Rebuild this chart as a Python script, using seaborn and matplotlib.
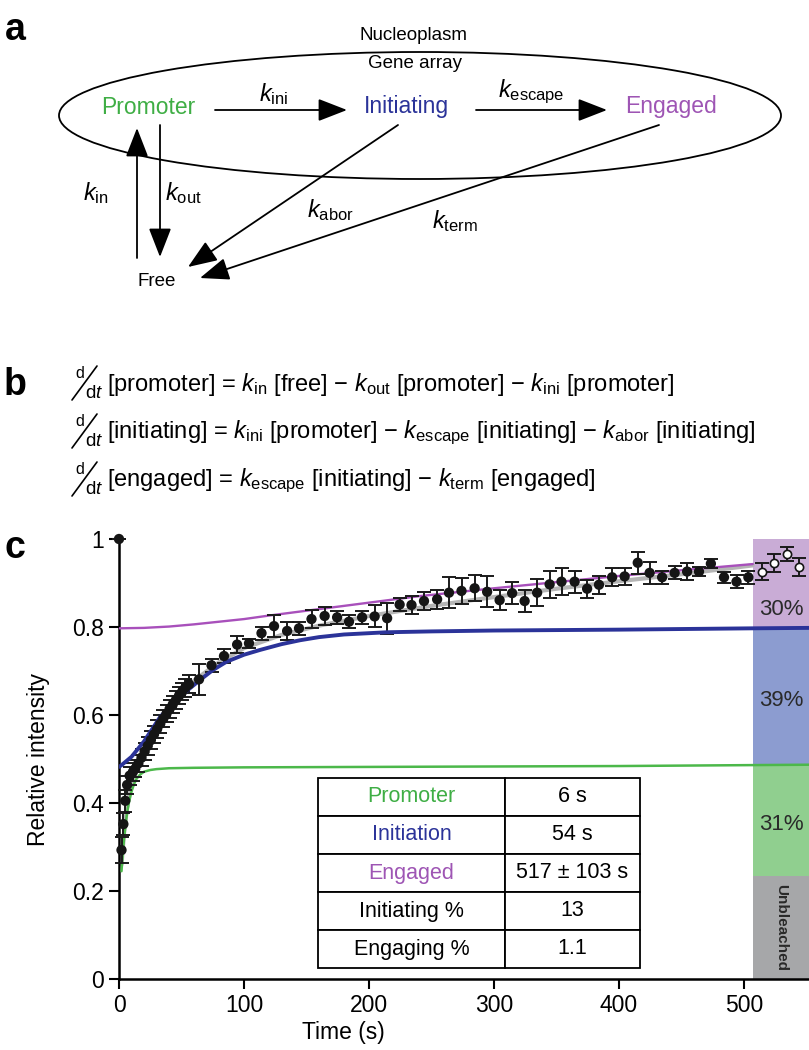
import matplotlib
matplotlib.use('Agg')
import matplotlib.pyplot as plt
import seaborn as sns
import pandas as pd
from matplotlib.patches import Ellipse, FancyArrowPatch
from matplotlib.lines import Line2D

# ---------------- data (panel c) ----------------
t_data = [0, 2, 3.5, 5, 6.5, 8.5, 11, 13, 15.5, 18, 20.5, 23, 25.5, 28, 30.5, 33,
          35.5, 38, 40.5, 43, 45.5, 48, 50.5, 53, 56, 64, 74, 84, 94.5, 104, 114,
          124, 134.5, 144, 154, 164.5, 174.5, 184, 194.5, 204.5, 214.5, 224.5, 234,
          244, 254.5, 264, 274, 284.5, 294.5, 304.5, 314.5, 324.5, 334.5, 344.5,
          354, 364.5, 374.5, 384, 394.5, 404.5, 415, 424.5, 434.5, 444.5, 454.5,
          464, 473.5, 484, 494, 503.5]
v_data = [1.0, 0.293, 0.352, 0.405, 0.441, 0.462, 0.47, 0.478, 0.49, 0.503, 0.517,
          0.53, 0.543, 0.556, 0.568, 0.58, 0.592, 0.603, 0.614, 0.624, 0.634, 0.644,
          0.653, 0.662, 0.67, 0.681, 0.713, 0.734, 0.76, 0.763, 0.786, 0.802, 0.791,
          0.797, 0.818, 0.825, 0.822, 0.812, 0.822, 0.824, 0.82, 0.851, 0.85, 0.859,
          0.863, 0.878, 0.882, 0.888, 0.88, 0.861, 0.877, 0.859, 0.878, 0.897, 0.903,
          0.903, 0.887, 0.896, 0.913, 0.915, 0.946, 0.923, 0.913, 0.923, 0.926, 0.926,
          0.944, 0.913, 0.903, 0.913]
e_data = [0.0, 0.03, 0.025, 0.025, 0.02, 0.02, 0.02, 0.02, 0.02, 0.02, 0.02, 0.02,
          0.02, 0.02, 0.02, 0.02, 0.02, 0.02, 0.02, 0.02, 0.02, 0.02, 0.02, 0.02,
          0.02, 0.035, 0.015, 0.015, 0.02, 0.01, 0.015, 0.025, 0.02, 0.015, 0.02,
          0.02, 0.015, 0.015, 0.015, 0.025, 0.035, 0.015, 0.02, 0.02, 0.022, 0.035,
          0.03, 0.03, 0.035, 0.022, 0.025, 0.025, 0.03, 0.03, 0.03, 0.025, 0.02,
          0.02, 0.02, 0.02, 0.025, 0.025, 0.015, 0.015, 0.02, 0.01, 0.01, 0.012,
          0.015, 0.015]
t_open = [514.4, 524, 534, 544]
v_open = [0.926, 0.946, 0.966, 0.936]
e_open = [0.02, 0.02, 0.015, 0.02]

t_fit = [2, 4, 6, 8, 10, 13, 16, 20, 25, 30, 40, 50, 60, 80, 100, 130, 160, 200,
         250, 300, 350, 400, 450, 507]
v_fit = [0.26, 0.33, 0.38, 0.42, 0.445, 0.47, 0.488, 0.51, 0.54, 0.565, 0.61, 0.648,
         0.678, 0.72, 0.752, 0.782, 0.803, 0.825, 0.848, 0.868, 0.887, 0.904, 0.92,
         0.94]
t_prom = [2, 3, 4, 5, 6, 7, 8, 9, 10, 12, 14, 17, 20, 25, 30, 40, 60, 100, 200, 300,
          400, 500, 552]
v_prom = [0.245, 0.285, 0.318, 0.345, 0.368, 0.386, 0.402, 0.414, 0.426, 0.443,
          0.455, 0.465, 0.471, 0.475, 0.477, 0.479, 0.48, 0.481, 0.482, 0.483, 0.484,
          0.486, 0.487]
t_init = [0, 2, 10, 20, 27, 33, 46, 56, 65, 75, 86, 100, 113, 130, 145, 160, 180,
          214, 250, 300, 400, 507, 552]
v_init = [0.482, 0.486, 0.505, 0.54, 0.57, 0.596, 0.634, 0.659, 0.68, 0.702, 0.721,
          0.737, 0.748, 0.761, 0.77, 0.777, 0.783, 0.788, 0.79, 0.792, 0.794, 0.797,
          0.798]
t_eng = [0, 20, 40, 60, 80, 100, 120, 150, 180, 210, 240, 270, 300, 350, 400, 450, 507]
v_eng = [0.797, 0.798, 0.801, 0.806, 0.812, 0.818, 0.826, 0.837, 0.848, 0.859, 0.87,
         0.879, 0.888, 0.902, 0.916, 0.929, 0.943]

bar_names = ['Unbleached', 'Promoter', 'Initiating', 'Engaged']
bar_bottom = [0.0, 0.235, 0.488, 0.797]
bar_top = [0.235, 0.488, 0.797, 1.0]
bar_labels = ['Unbleached', '31%', '39%', '30%']
bar_colors = ['#a6a7a9', '#90cf8f', '#8c9cd0', '#c9acd6']

table_left = ['Promoter', 'Initiation', 'Engaged', 'Initiating %', 'Engaging %']
table_right = ['6 s', '54 s', '517 \u00b1 103 s', '13', '1.1']

x_ticks = [0, 100, 200, 300, 400, 500]
y_ticks = [0, 0.2, 0.4, 0.6, 0.8, 1.0]
y_ticklabels = ['0', '0.2', '0.4', '0.6', '0.8', '1']

GREEN = '#3fae45'
BLUE = '#2b3399'
PURPLE = '#9e55b4'

# ---------------- style ----------------
sns.set_theme(style='ticks')
FONT = 'Liberation Sans'
plt.rcParams['font.family'] = [FONT, 'DejaVu Sans']
plt.rcParams['mathtext.fontset'] = 'custom'
plt.rcParams['mathtext.rm'] = FONT
plt.rcParams['mathtext.it'] = FONT + ':italic'
plt.rcParams['mathtext.bf'] = FONT + ':bold'
plt.rcParams['text.color'] = 'black'
plt.rcParams['axes.labelcolor'] = 'black'
plt.rcParams['xtick.color'] = 'black'
plt.rcParams['ytick.color'] = 'black'
plt.rcParams['axes.edgecolor'] = 'black'

fig = plt.figure(figsize=(8.09, 10.5), dpi=100)
fig.patch.set_facecolor('white')

# overlay axes in pixel coordinates for panels a and b
ov = fig.add_axes([0, 0, 1, 1])
ov.set_xlim(0, 809)
ov.set_ylim(1050, 0)
ov.axis('off')

# panel labels
for lab, (x, y) in zip(['a', 'b', 'c'], [(15, 30), (15, 385), (15, 548)]):
    ov.text(x, y, lab, fontsize=27, fontweight='bold', ha='center', va='center')

# ---------------- panel a ----------------
ov.add_patch(Ellipse((420, 115.5), 722, 127, fill=False, lw=1.3, color='black'))
ov.text(414, 35, 'Nucleoplasm', fontsize=13.5, ha='center', va='center')
ov.text(415, 63, 'Gene array', fontsize=13.5, ha='center', va='center')
ov.text(148, 107, 'Promoter', fontsize=16.5, color=GREEN, ha='center', va='center')
ov.text(406, 107, 'Initiating', fontsize=16.5, color=BLUE, ha='center', va='center')
ov.text(671, 107, 'Engaged', fontsize=16.5, color=PURPLE, ha='center', va='center')
ov.text(157, 282, 'Free', fontsize=13.5, ha='center', va='center')

def arrow(p0, p1):
    ov.add_patch(FancyArrowPatch(p0, p1, arrowstyle='-|>,head_length=1.8,head_width=0.7',
                                 mutation_scale=10, lw=1.3, color='black',
                                 shrinkA=0, shrinkB=0))

arrow((215, 110), (347, 110))
arrow((476, 110), (607, 110))
arrow((137, 258), (137, 128))
arrow((160, 125), (160, 257))
arrow((398, 125), (188, 267))
arrow((659, 125), (200, 278))

ks = 17
ov.text(274, 94, r'$k_{\mathrm{ini}}$', fontsize=ks, ha='center', va='center')
ov.text(531, 92, r'$k_{\mathrm{escape}}$', fontsize=ks, ha='center', va='center')
ov.text(96, 193, r'$k_{\mathrm{in}}$', fontsize=ks, ha='center', va='center')
ov.text(183, 193, r'$k_{\mathrm{out}}$', fontsize=ks, ha='center', va='center')
ov.text(330, 210, r'$k_{\mathrm{abor}}$', fontsize=ks, ha='center', va='center')
ov.text(455, 221, r'$k_{\mathrm{term}}$', fontsize=ks, ha='center', va='center')

# ---------------- panel b ----------------
eqs = ['[promoter] = $k_{\\mathrm{in}}$ [free] \u2212 $k_{\\mathrm{out}}$ [promoter] \u2212 $k_{\\mathrm{ini}}$ [promoter]',
       '[initiating] = $k_{\\mathrm{ini}}$ [promoter] \u2212 $k_{\\mathrm{escape}}$ [initiating] \u2212 $k_{\\mathrm{abor}}$ [initiating]',
       '[engaged] = $k_{\\mathrm{escape}}$ [initiating] \u2212 $k_{\\mathrm{term}}$ [engaged]']
for i, eq in enumerate(eqs):
    yc = 385 + 48 * i
    ov.text(80, yc - 11, 'd', fontsize=11.5, ha='center', va='center')
    ov.add_line(Line2D([72, 97], [yc + 15, yc - 19], lw=1.2, color='black'))
    ov.text(94, yc + 8, r'd$\it{t}$', fontsize=13.5, ha='center', va='center')
    ov.text(107, yc, eq, fontsize=17, ha='left', va='center')

# ---------------- panel c ----------------
ax = fig.add_axes([119 / 809, 71 / 1050, 690 / 809, 440 / 1050])
ax.set_xlim(0, 552)
ax.set_ylim(0, 1.0)

bar_left = 507
for nm, b0, b1, col, lab in zip(bar_names, bar_bottom, bar_top, bar_colors, bar_labels):
    ax.bar(bar_left, b1 - b0, width=552 - bar_left, bottom=b0, align='edge',
           color=col, edgecolor='none', zorder=1)
    if nm == 'Unbleached':
        ax.text(530, 0.117, lab, rotation=-90, fontsize=11, fontweight='bold',
                ha='center', va='center', color='#2a2a2a', zorder=6)
    else:
        ypos = {'Promoter': 0.35, 'Initiating': 0.634, 'Engaged': 0.839}[nm]
        ax.text(530, ypos, lab, fontsize=16, ha='center', va='center',
                color='#2a2a2a', zorder=6)

df_fit = pd.DataFrame({'t': t_fit, 'v': v_fit})
df_prom = pd.DataFrame({'t': t_prom, 'v': v_prom})
df_init = pd.DataFrame({'t': t_init, 'v': v_init})
df_eng = pd.DataFrame({'t': t_eng, 'v': v_eng})

sns.lineplot(data=df_fit, x='t', y='v', ax=ax, color='#b5b5b5', lw=3, zorder=2)
sns.lineplot(data=df_eng, x='t', y='v', ax=ax, color='#a850bb', lw=1.7, zorder=3)
sns.lineplot(data=df_prom, x='t', y='v', ax=ax, color='#4cb84a', lw=1.8, zorder=3)

ax.errorbar(t_data, v_data, yerr=e_data, fmt='none', ecolor='#1a1a1a',
            elinewidth=1.4, capsize=5, capthick=1.4, zorder=4, clip_on=False)
sns.scatterplot(x=t_data, y=v_data, ax=ax, color='#151515', s=55,
                edgecolor='none', zorder=5, clip_on=False)
ax.errorbar(t_open, v_open, yerr=e_open, fmt='none', ecolor='#1a1a1a',
            elinewidth=1.4, capsize=5, capthick=1.4, zorder=4)
sns.scatterplot(x=t_open, y=v_open, ax=ax, facecolor='white', s=35,
                edgecolor='#151515', linewidth=1.2, zorder=5)
sns.lineplot(data=df_init, x='t', y='v', ax=ax, color=BLUE, lw=2.8, zorder=4.5)

# table
tb = ax.table(cellText=[[a, b] for a, b in zip(table_left, table_right)],
              cellLoc='center', colWidths=[0.58, 0.42],
              bbox=[(318 - 119) / 690, (979 - 968) / 440,
                    (640 - 318) / 690, (968 - 778) / 440], zorder=7)
tb.auto_set_font_size(False)
left_colors = [GREEN, BLUE, PURPLE, 'black', 'black']
for (r, c), cell in tb.get_celld().items():
    cell.set_linewidth(1.3)
    cell.set_edgecolor('black')
    cell.set_facecolor('white')
    cell.get_text().set_fontsize(15.5)
    cell.get_text().set_color(left_colors[r] if c == 0 else 'black')

sns.despine(ax=ax)
for s in ['left', 'bottom']:
    ax.spines[s].set_linewidth(1.8)
    ax.spines[s].set_color('black')
ax.set_xticks(x_ticks)
ax.set_yticks(y_ticks)
ax.set_yticklabels(y_ticklabels)
ax.tick_params(direction='out', length=7, width=1.5, labelsize=16.5, pad=4,
               colors='black')
ax.set_xlabel('Time (s)', fontsize=16.5)
ax.set_ylabel('Relative intensity', fontsize=16.5)
ax.xaxis.set_label_coords((343 - 119) / 690, -0.095)
ax.yaxis.set_label_coords(-0.1, 0.5)
ax.set_facecolor('white')
ax.grid(False)

fig.savefig('out.png', dpi=100, facecolor='white')
